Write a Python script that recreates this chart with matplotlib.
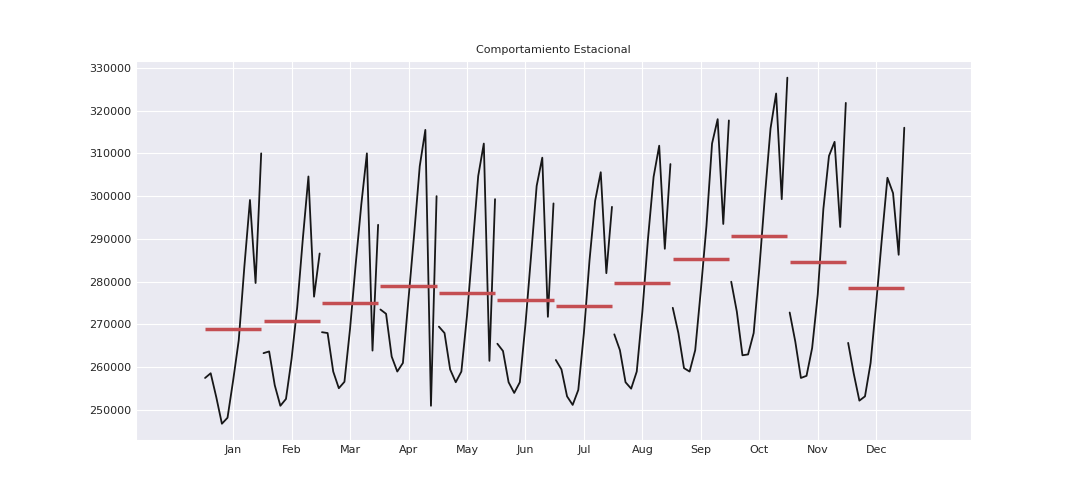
import numpy as np
import matplotlib
matplotlib.use("Agg")
import matplotlib.pyplot as plt
import seaborn as sns

sns.set_style("darkgrid")
plt.rcParams['font.family'] = ['DejaVu Sans']

months = ['Jan', 'Feb', 'Mar', 'Apr', 'May', 'Jun', 'Jul', 'Aug', 'Sep', 'Oct', 'Nov', 'Dec']

jan = [257500, 258600, 253000, 246800, 248200, 256900, 266300, 283500, 299100, 279700, 310000]
feb = [263300, 263700, 255800, 251000, 252600, 262000, 274000, 290000, 304600, 276500, 286600]
mar = [268200, 268000, 259000, 255100, 256600, 269000, 284000, 298000, 310000, 263900, 293300]
apr = [273500, 272500, 262500, 259000, 261000, 276000, 291000, 307000, 315500, 251000, 300000]
may = [269500, 268000, 259500, 256500, 259000, 272000, 288000, 304700, 312300, 261500, 299300]
jun = [265500, 263800, 256500, 254000, 256500, 270000, 286000, 302400, 309000, 271800, 298300]
jul = [261700, 259500, 253200, 251200, 254700, 268000, 285000, 298900, 305600, 282000, 297500]
aug = [267700, 264000, 256500, 255000, 259000, 273000, 290000, 304500, 311800, 287700, 307500]
sep = [273900, 268000, 259800, 259000, 264000, 278000, 293000, 312300, 318000, 293500, 317700]
oct_ = [280000, 273000, 262800, 263000, 268000, 283000, 300000, 315800, 324000, 299300, 327700]
nov = [272800, 266000, 257500, 258000, 264500, 277000, 297000, 309400, 312700, 292800, 321800]
dec = [265700, 258500, 252200, 253200, 261000, 275000, 290000, 304300, 300700, 286300, 316000]

series = [jan, feb, mar, apr, may, jun, jul, aug, sep, oct_, nov, dec]

fig = plt.figure(figsize=(10.8, 5.04), dpi=100)
ax = fig.add_axes([0.126, 0.127, 0.773, 0.752])

for i, vals in enumerate(series):
    x = np.linspace(i - 0.48, i + 0.48, len(vals))
    ax.plot(x, vals, color='k', lw=1.3, alpha=0.9)
    ax.hlines(np.mean(vals), i - 0.48, i + 0.48, color='#c44e52', lw=2.5)

ax.set_xticks(range(12))
ax.set_xticklabels(months)
ax.set_xlim(-1.66, 12.62)
ax.set_ylim(243000, 331600)
ax.set_yticks(range(250000, 330001, 10000))
ax.tick_params(labelsize=8, length=0)
ax.set_title('Comportamiento Estacional', fontsize=8)

fig.savefig('out.png', dpi=100)
